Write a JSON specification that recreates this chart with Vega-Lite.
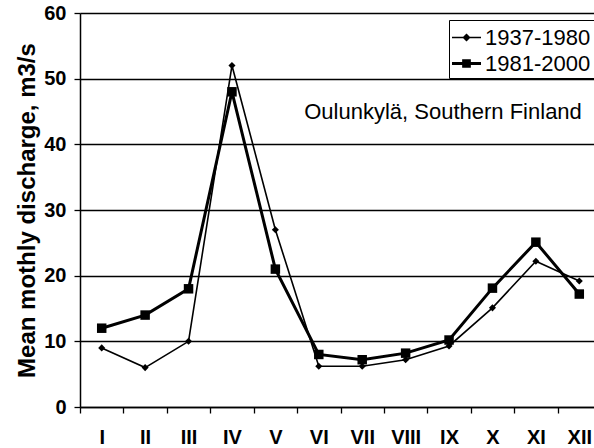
{
  "$schema": "https://vega.github.io/schema/vega-lite/v6.json",
  "width": 521,
  "height": 394,
  "autosize": {"type": "none"},
  "padding": {"left": 80, "top": 13, "right": -7, "bottom": 41},
  "background": "white",
  "config": {"font": "Liberation Sans", "view": {"stroke": null}},
  "data": {
    "values": [
      {"month": "I", "series": "1937-1980", "q": 9},
      {"month": "II", "series": "1937-1980", "q": 6},
      {"month": "III", "series": "1937-1980", "q": 10},
      {"month": "IV", "series": "1937-1980", "q": 52},
      {"month": "V", "series": "1937-1980", "q": 27},
      {"month": "VI", "series": "1937-1980", "q": 6.2},
      {"month": "VII", "series": "1937-1980", "q": 6.2},
      {"month": "VIII", "series": "1937-1980", "q": 7.2},
      {"month": "IX", "series": "1937-1980", "q": 9.3},
      {"month": "X", "series": "1937-1980", "q": 15.1},
      {"month": "XI", "series": "1937-1980", "q": 22.2},
      {"month": "XII", "series": "1937-1980", "q": 19.2},
      {"month": "I", "series": "1981-2000", "q": 12},
      {"month": "II", "series": "1981-2000", "q": 14},
      {"month": "III", "series": "1981-2000", "q": 18},
      {"month": "IV", "series": "1981-2000", "q": 48},
      {"month": "V", "series": "1981-2000", "q": 21},
      {"month": "VI", "series": "1981-2000", "q": 8},
      {"month": "VII", "series": "1981-2000", "q": 7.2},
      {"month": "VIII", "series": "1981-2000", "q": 8.2},
      {"month": "IX", "series": "1981-2000", "q": 10.2},
      {"month": "X", "series": "1981-2000", "q": 18.1},
      {"month": "XI", "series": "1981-2000", "q": 25.1},
      {"month": "XII", "series": "1981-2000", "q": 17.2}
    ]
  },
  "encoding": {
    "x": {
      "field": "month", "type": "nominal",
      "scale": {"domain": ["I","II","III","IV","V","VI","VII","VIII","IX","X","XI","XII"], "paddingInner": 0, "paddingOuter": 0},
      "axis": {"title": null, "labelAngle": 0, "labelFont": "Liberation Sans", "labelFontSize": 20, "labelFontWeight": "bold", "labelColor": "black", "labelPadding": 14, "tickBand": "extent", "tickSize": 6, "tickColor": "black", "tickWidth": 1.3, "domainColor": "black", "domainWidth": 1.5, "grid": false}
    },
    "y": {
      "field": "q", "type": "quantitative",
      "scale": {"domain": [0, 60], "nice": false},
      "axis": {"title": "Mean mothly discharge, m3/s", "titleFontSize": 24, "titleFontWeight": "bold", "titleColor": "black", "titlePadding": 4, "values": [0,10,20,30,40,50,60], "labelFontSize": 20, "labelFontWeight": "bold", "labelColor": "black", "labelPadding": 8, "tickSize": 6, "tickColor": "black", "tickWidth": 1.3, "domainColor": "black", "domainWidth": 1.5, "grid": true, "gridColor": "black", "gridWidth": 1.3, "gridOpacity": 1}
    }
  },
  "layer": [
    {
      "transform": [{"filter": "datum.series === '1937-1980'"}],
      "mark": {"type": "line", "color": "black", "strokeWidth": 1.6},
      "encoding": {}
    },
    {
      "transform": [{"filter": "datum.series === '1981-2000'"}],
      "mark": {"type": "line", "color": "black", "strokeWidth": 3},
      "encoding": {}
    },
    {
      "transform": [{"filter": "datum.series === '1981-2000'"}],
      "mark": {"type": "point", "filled": true, "color": "black", "opacity": 1, "size": 90, "shape": "square"},
      "encoding": {}
    },
    {
      "transform": [{"filter": "datum.series === '1937-1980'"}],
      "mark": {"type": "point", "filled": true, "color": "black", "opacity": 1, "size": 50, "shape": "diamond"},
      "encoding": {}
    },
    {
      "mark": {"type": "point", "filled": true, "color": "black", "opacity": 0},
      "encoding": {
        "shape": {
          "field": "series", "type": "nominal",
          "scale": {"domain": ["1937-1980","1981-2000"], "range": ["M-1,-0.055H1V0.055H-1ZM0,-0.28L0.28,0L0,0.28L-0.28,0Z", "M-1,-0.1H1V0.1H-1ZM-0.3,-0.3H0.3V0.3H-0.3Z"]},
          "legend": {
            "title": null, "orient": "none", "legendX": 369, "legendY": 7,
            "fillColor": "white", "strokeColor": "black", "padding": 3,
            "rowPadding": -2, "labelFontSize": 22, "labelColor": "black", "labelOffset": 4,
            "symbolSize": 841, "symbolFillColor": "black", "symbolStrokeColor": "black", "symbolStrokeWidth": 0, "symbolOpacity": 1
          }
        }
      }
    },
    {
      "transform": [{"filter": "datum.series === '1937-1980' && datum.month === 'IX'"}],
      "mark": {"type": "text", "fontSize": 22, "color": "black", "align": "center", "baseline": "middle", "dx": -6},
      "encoding": {
        "x": {"datum": "IX"},
        "y": {"datum": 45},
        "text": {"value": "Oulunkylä, Southern Finland"}
      }
    }
  ]
}
